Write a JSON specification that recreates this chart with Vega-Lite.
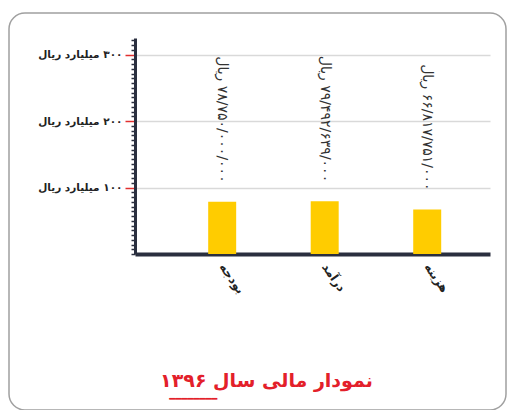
{
  "$schema": "https://vega.github.io/schema/vega-lite/v6.json",
  "autosize": "none",
  "width": 497,
  "height": 397,
  "padding": {"left": 9, "top": 13, "right": 2, "bottom": 0},
  "background": "white",
  "config": {
    "view": {"stroke": "#a0a0a0", "strokeWidth": 1.5, "cornerRadius": 16},
    "font": "DejaVu Sans"
  },
  "title": {
    "text": "نمودار مالی سال ۱۳۹۶",
    "subtitle": "━━━━━━━━\u2800\u2800\u2800\u2800\u2800\u2800\u2800\u2800\u2800\u2800\u2800\u2800\u2800\u2800\u2800\u2800\u2800\u2800\u2800\u2800",
    "orient": "bottom",
    "anchor": "middle",
    "offset": -38,
    "dx": 9,
    "fontSize": 19,
    "fontWeight": "bold",
    "color": "#e3202a",
    "subtitleColor": "#e3202a",
    "subtitleFontSize": 10,
    "subtitlePadding": 3
  },
  "data": {
    "values": [
      {"item": "بودجه", "value": 78.75, "label": "\u202B۷۸/۷۵۰/۰۰۰/۰۰۰ ریال\u202C"},
      {"item": "درآمد", "value": 79.49, "label": "\u202B۷۹/۴۹۲/۶۳۹/۰۰۰ ریال\u202C"},
      {"item": "هزینه", "value": 66.82, "label": "\u202B۶۶/۸۱۷/۷۵۱/۰۰۰ ریال\u202C"}
    ]
  },
  "encoding": {
    "x": {
      "field": "item",
      "type": "nominal",
      "sort": null,
      "scale": {"range": [126, 481], "paddingInner": 0.727, "paddingOuter": 0.595, "align": 0.6},
      "axis": {
        "title": null,
        "orient": "bottom",
        "offset": -156,
        "domainColor": "#2a2f3f",
        "domainWidth": 4,
        "ticks": false,
        "labelAngle": 55,
        "labelPadding": 10,
        "labelFontSize": 12,
        "labelFontWeight": "bold",
        "labelColor": "#222222",
        "grid": false
      }
    },
    "y": {
      "field": "value",
      "type": "quantitative",
      "scale": {"domain": [0, 325], "range": [241, 25], "nice": false, "zero": true},
      "axis": {
        "title": null,
        "orient": "left",
        "offset": -126,
        "values": [0, 7.14, 14.29, 21.43, 28.57, 35.71, 42.86, 50, 57.14, 64.29, 71.43, 78.57, 85.71, 92.86, 100, 107.14, 114.29, 121.43, 128.57, 135.71, 142.86, 150, 157.14, 164.29, 171.43, 178.57, 185.71, 192.86, 200, 207.14, 214.29, 221.43, 228.57, 235.71, 242.86, 250, 257.14, 264.29, 271.43, 278.57, 285.71, 292.86, 300, 307.14, 314.29, 321.43],
        "domainColor": "#2a2f3f",
        "domainWidth": 3,
        "grid": true,
        "gridColor": "#d9d9d9",
        "gridWidth": 1.5,
        "gridOpacity": {"condition": {"test": "indexof([100,200,300], datum.value) >= 0", "value": 1}, "value": 0},
        "tickColor": {"condition": {"test": "indexof([100,200,300], datum.value) >= 0", "value": "#e03030"}, "value": "#2a2f3f"},
        "tickSize": {"condition": {"test": "indexof([100,200,300], datum.value) >= 0", "value": 10}, "value": 4},
        "tickWidth": 1.5,
        "labelExpr": "datum.value == 100 ? '\u202B۱۰۰ میلیارد ریال\u202C' : datum.value == 200 ? '\u202B۲۰۰ میلیارد ریال\u202C' : datum.value == 300 ? '\u202B۳۰۰ میلیارد ریال\u202C' : ''",
        "labelPadding": 3,
        "labelFontSize": 10.5,
        "labelFontWeight": "bold",
        "labelColor": "#222222",
        "labelOverlap": false
      }
    }
  },
  "layer": [
    {"mark": {"type": "bar", "color": "#ffcc00"}},
    {
      "mark": {"type": "text", "angle": 90, "align": "right", "baseline": "middle", "yOffset": -19, "fontSize": 14, "color": "#333333"},
      "encoding": {"text": {"field": "label"}}
    }
  ]
}
